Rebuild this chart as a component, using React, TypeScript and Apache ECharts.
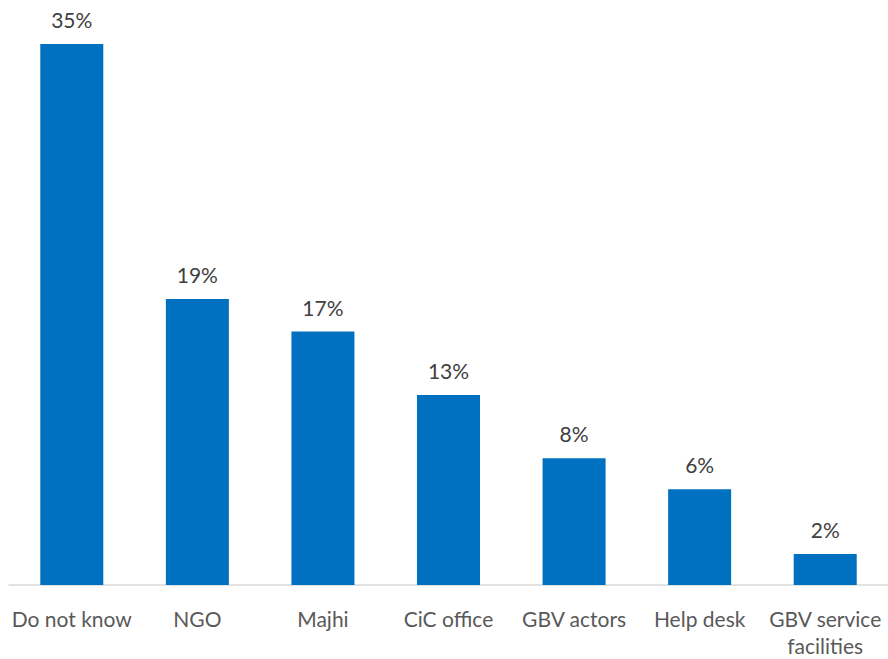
import React, { useEffect, useRef } from "react";
import * as echarts from "echarts";

const categories = ["Do not know", "NGO", "Majhi", "CiC office", "GBV actors", "Help desk", "GBV service\nfacilities"];
const values = [35, 18.5, 16.4, 12.3, 8.2, 6.2, 2.0];
const valueLabels = ["35%", "19%", "17%", "13%", "8%", "6%", "2%"];

export default function App() {
  const ref = useRef<HTMLDivElement>(null);
  useEffect(() => {
    document.body.style.margin = "0";
    const chart = echarts.init(ref.current!, null, { renderer: "svg" });
    chart.setOption({
      animation: false,
      grid: { left: 9, right: 0, top: 44, bottom: 70, containLabel: false },
      xAxis: {
        type: "category",
        data: categories,
        axisLine: { lineStyle: { color: "#d9d9d9", width: 1.5 } },
        axisTick: { show: false },
        axisLabel: {
          interval: 0,
          color: "#595959",
          fontFamily: "Lato",
          fontSize: 21,
          margin: 20,
          lineHeight: 27,
        },
      },
      yAxis: { type: "value", min: 0, max: 35, show: false, splitLine: { show: false } },
      series: [
        {
          type: "bar",
          data: values,
          barWidth: 63,
          itemStyle: { color: "#0070C0" },
          label: {
            show: true,
            position: "top",
            distance: 14,
            color: "#404040",
            fontFamily: "Lato",
            fontSize: 21,
            formatter: (p: any) => valueLabels[p.dataIndex],
          },
        },
      ],
    });
    return () => chart.dispose();
  }, []);
  return <div ref={ref} style={{ width: 888, height: 659 }} />;
}
